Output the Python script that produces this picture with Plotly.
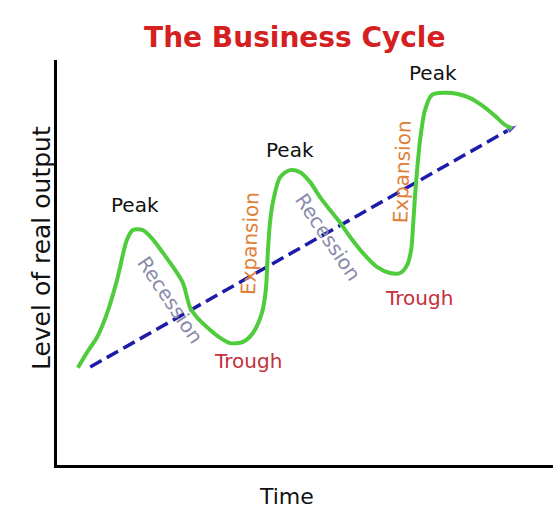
import plotly.graph_objects as go

# Business-cycle curve (time units 0-100, output units 0-100)
cycle_time = [4.2, 6.0, 8.1, 10.1, 12.1, 14.1, 15.3, 17.3, 19.4, 21.4, 23.4, 25.4, 26.8, 28.2,
              30.2, 32.9, 34.9, 37.5, 39.5, 41.3, 42.1, 42.5, 42.9, 43.5, 45.0, 47.0, 49.0,
              51.0, 53.0, 55.0, 57.1, 59.1, 61.7, 64.5, 67.1, 69.2, 70.6, 71.4, 71.8, 72.2,
              72.6, 73.2, 74.2, 75.6, 78.2, 80.8, 83.3, 85.9, 88.3, 90.3, 91.7]
cycle_output = [24.0, 27.7, 31.6, 37.5, 45.7, 55.6, 58.0, 58.0, 55.6, 52.3, 48.9, 44.9, 39.0,
                36.5, 34.1, 31.4, 30.1, 30.4, 32.6, 37.5, 43.2, 52.3, 59.3, 64.7, 71.1, 72.8,
                72.3, 69.9, 66.2, 63.0, 59.8, 56.3, 52.3, 48.9, 47.4, 47.4, 49.4, 53.1, 59.3,
                66.7, 72.8, 80.2, 87.7, 91.4, 91.9, 91.6, 90.6, 88.6, 86.2, 84.0, 83.2]

# Long-run trend (dashed arrow)
trend_time = [6.7, 92.9]
trend_output = [24.2, 84.0]

# Phase labels
label_text = ["Peak", "Peak", "Peak", "Recession", "Recession", "Expansion", "Expansion",
              "Trough", "Trough"]
label_time = [15.7, 47.0, 75.8, 22.8, 54.6, 38.9, 69.6, 38.5, 73.0]
label_output = [64.2, 77.8, 96.8, 40.7, 56.3, 54.8, 72.3, 25.7, 41.2]

title_text = "The Business Cycle"
x_title = "Time"
y_title = "Level of real output"

FONT = "DejaVu Sans"
label_style = {
    "Peak": dict(color="#111111", angle=0),
    "Recession": dict(color="#8a8aaa", angle=56),
    "Expansion": dict(color="#e0803a", angle=-88),
    "Trough": dict(color="#c4303c", angle=0),
}

fig = go.Figure()
fig.add_trace(go.Scatter(
    x=trend_time, y=trend_output, mode="lines+markers",
    line=dict(color="#1c1ca8", width=3.5, dash="13px,6px"),
    marker=dict(symbol=["circle", "arrow"], size=[0, 12], angleref="previous",
                color="#1c1ca8"),
    hoverinfo="skip", showlegend=False))
fig.add_trace(go.Scatter(
    x=cycle_time, y=cycle_output, mode="lines",
    line=dict(color="#4fcc3c", width=4, shape="spline", smoothing=0.8),
    hoverinfo="skip", showlegend=False))

for t, x, y in zip(label_text, label_time, label_output):
    st = label_style[t]
    fig.add_annotation(x=x, y=y, text=t, showarrow=False, textangle=st["angle"],
                       xanchor="center", yanchor="middle",
                       font=dict(family=FONT, size=20, color=st["color"]))

fig.add_annotation(xref="paper", yref="paper", x=-0.03, y=0.536, text=y_title,
                   showarrow=False, textangle=-90, xanchor="center", yanchor="middle",
                   font=dict(family=FONT, size=25, color="#111111"))
fig.add_annotation(xref="paper", yref="paper", x=0.462, y=-0.079, text=x_title,
                   showarrow=False, xanchor="center", yanchor="middle",
                   font=dict(family=FONT, size=22, color="#111111"))

fig.update_layout(
    width=553, height=519,
    margin=dict(l=57, r=0, t=60, b=54),
    paper_bgcolor="white", plot_bgcolor="white",
    title=dict(text="<b>" + title_text + "</b>", x=0.533, xanchor="center",
               y=0.929, yanchor="middle",
               font=dict(family=FONT, size=28, color="#d42020")),
    xaxis=dict(range=[0, 100], showline=True, linecolor="black", linewidth=3,
               showgrid=False, zeroline=False, showticklabels=False, ticks=""),
    yaxis=dict(range=[0, 100], showline=True, linecolor="black", linewidth=3,
               showgrid=False, zeroline=False, showticklabels=False, ticks=""),
)

fig.write_html("out.html", config={"displayModeBar": False},
               post_script="document.body.style.margin='0';")
